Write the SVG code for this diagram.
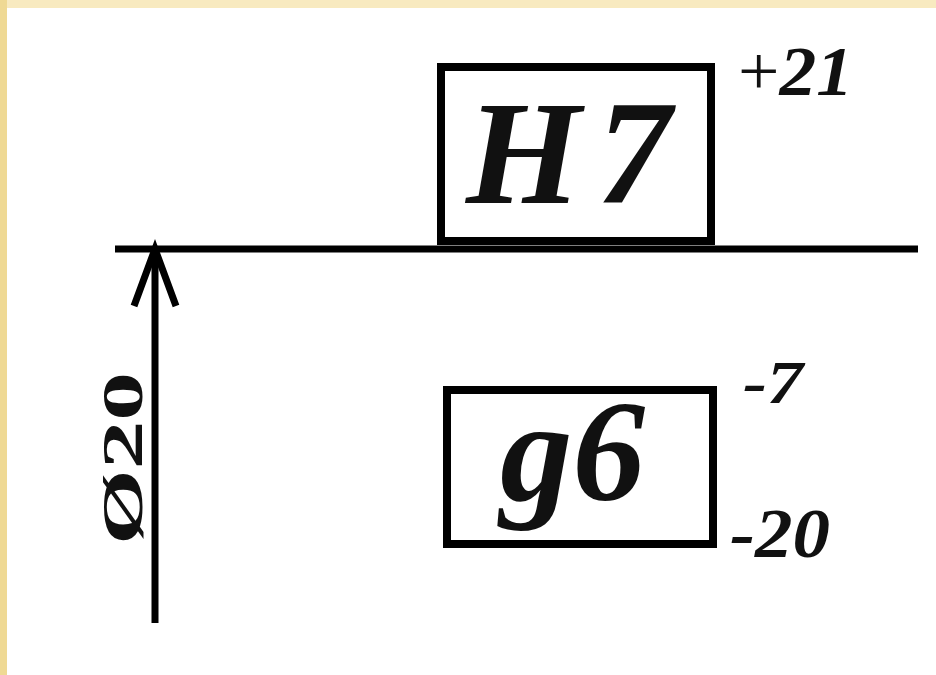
<svg xmlns="http://www.w3.org/2000/svg" width="936" height="675" viewBox="0 0 936 675">
  <style>
    .box { fill: none; stroke: #000; stroke-width: 8; }
    .ln { stroke: #000; stroke-width: 7; fill: none; stroke-linecap: butt; }
    .big { font-family: "Liberation Serif", "Times New Roman", serif; font-weight: bold; font-style: italic; fill: #111; }
    .dev { font-family: "Liberation Serif", "Times New Roman", serif; font-style: italic; font-weight: bold; fill: #111; }
    .dim { font-family: "Liberation Serif", "Times New Roman", serif; font-weight: bold; fill: #111; }
  </style>
  <rect x="0" y="0" width="936" height="675" fill="#ffffff"/>
  <rect x="0" y="0" width="936" height="8" fill="#F8EAC0"/>
  <rect x="0" y="0" width="7" height="675" fill="#EFD994"/>

  <g id="connectors">
    <line class="ln" x1="115" y1="249" x2="918" y2="249"/>
    <line class="ln" x1="155" y1="247" x2="155" y2="623" stroke-width="6"/>
    <polyline class="ln" points="134,306 155,249 176,306" stroke-width="7"/>
  </g>

  <g id="hole-H7">
    <rect class="box" x="441" y="67" width="270" height="174"/>
    <text class="big" x="466" y="203" font-size="148" textLength="205" lengthAdjust="spacing">H7</text>
  </g>

  <g id="hole-deviation">
    <text class="dev" x="738" y="95" font-size="70" textLength="115" lengthAdjust="spacingAndGlyphs"><tspan font-style="normal" font-weight="normal">+</tspan>21</text>
  </g>

  <g id="shaft-g6">
    <rect class="box" x="447" y="390" width="266" height="154"/>
    <text class="big" x="500" y="500" font-size="145">g6</text>
  </g>

  <g id="shaft-deviations">
    <text class="dev" x="743" y="403" font-size="62" font-weight="normal" textLength="60" lengthAdjust="spacingAndGlyphs">-7</text>
    <text class="dev" x="730" y="557" font-size="70" textLength="100" lengthAdjust="spacingAndGlyphs">-20</text>
  </g>

  <g id="dimension">
    <text class="dim" transform="translate(142,545) rotate(-90)" x="0" y="0" font-size="58" textLength="173" lengthAdjust="spacingAndGlyphs">Ø20</text>
  </g>
</svg>
